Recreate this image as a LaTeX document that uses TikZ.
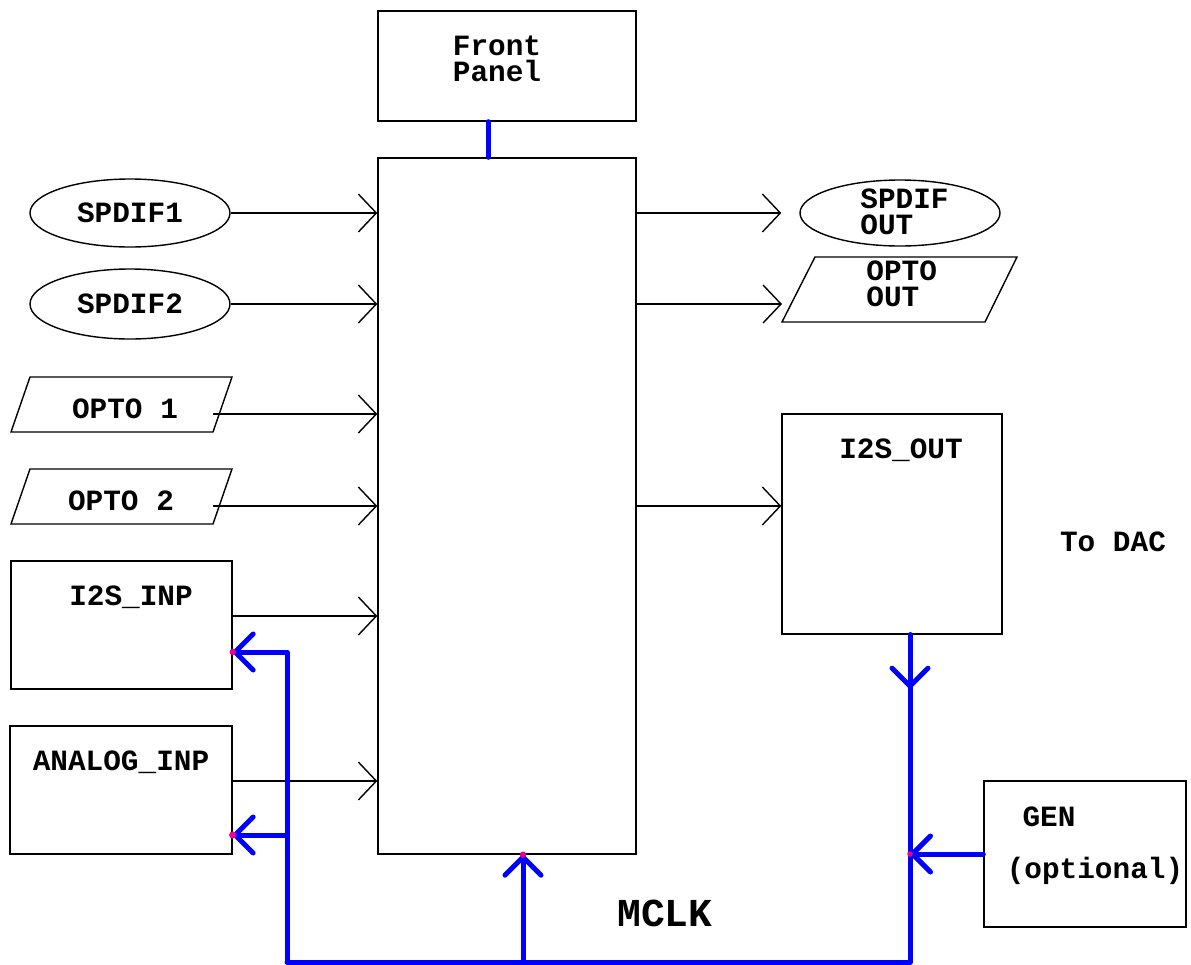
\documentclass[tikz,border=0pt]{standalone}
\usepackage{fontspec}
\setmonofont{Liberation Mono}
\usetikzlibrary{arrows.meta,shapes.geometric}

\begin{document}
\begin{tikzpicture}[x=0.5pt,y=-0.5pt,
  every node/.style={font=\ttfamily\bfseries\fontsize{14.7}{13}\selectfont, inner sep=0pt},
  box/.style={draw, line width=0.7pt},
  oval/.style={box, ellipse, minimum width=100pt, minimum height=34pt},
  sig/.style={line width=0.7pt, -{Straight Barb[length=9pt,width=19pt]}},
  clk/.style={blue, line width=2.5pt, line cap=round, line join=round},
  clktip/.style={clk, -{Straight Barb[length=9pt,width=18pt,round]}}]
  \useasboundingbox (0,0) rectangle (1191,965);

  % blocks
  \node[box, minimum width=129pt, minimum height=348pt] (main) at (507,506) {};
  \node[box, minimum width=129pt, minimum height=55pt] (front) at (507,66) {};
  \node[align=left] (fronttxt) at (497,59) {Front\\Panel};

  % inputs
  \node[oval] (sp1) at (130,213) {SPDIF1};
  \node[oval, minimum height=35pt] (sp2) at (130,304) {SPDIF2};
  \draw[box] (30,377) -- (232,377) -- (213,432) -- (11,432) -- cycle;
  \node (o1) at (125,409) {OPTO 1};
  \draw[box] (30,469) -- (232,469) -- (213,524) -- (11,524) -- cycle;
  \node (o2) at (121,501) {OPTO 2};
  \node[box, minimum width=110.5pt, minimum height=64pt] (i2si) at (121.5,625) {};
  \node (i2sitxt) at (131,597) {I2S\_INP};
  \node[box, minimum width=111pt, minimum height=64pt] (ana) at (121,790) {};
  \node (anatxt) at (121,762) {ANALOG\_INP};
  \coordinate (o1out) at (213,414);
  \coordinate (o2out) at (213,506);

  \draw[sig] (sp1.east) -- (sp1.east -| main.west);
  \draw[sig] (sp2.east) -- (sp2.east -| main.west);
  \draw[sig] (o1out) -- (o1out -| main.west);
  \draw[sig] (o2out) -- (o2out -| main.west);
  \draw[sig] ([yshift=4.5pt]i2si.east) -- ([yshift=4.5pt]i2si.east -| main.west);
  \draw[sig] ([yshift=4.5pt]ana.east) -- ([yshift=4.5pt]ana.east -| main.west);

  % outputs
  \node[oval, minimum height=33pt] (spo) at (900,213) {};
  \node[anchor=west, align=left] (spotxt) at (860,212) {SPDIF\\OUT};
  \draw[box] (815,257) -- (1017,257) -- (985,322) -- (782,322) -- cycle;
  \node[anchor=west, align=left] (oo) at (866,284) {OPTO\\OUT};
  \coordinate (ooin) at (782,304);
  \node[box, minimum width=110pt, minimum height=110pt] (i2so) at (892,524) {};
  \node (i2sotxt) at (901,450) {I2S\_OUT};
  \node (dac) at (1113,542) {To DAC};
  \coordinate (i2soin) at ([yshift=9pt]i2so.west);

  \draw[sig] (main.east |- spo.west) -- ([xshift=-9pt]spo.west);
  \draw[sig] (main.east |- ooin) -- (ooin);
  \draw[sig] (main.east |- i2soin) -- (i2soin);

  % clock
  \node[box, minimum width=101pt, minimum height=73pt] (gen) at (1085,854) {};
  \node (gentxt) at (1049,817) {GEN};
  \node (opttxt) at (1095,871) {(optional)};
  \node[font=\ttfamily\bfseries\fontsize{19.8}{22}\selectfont] (mclk) at (665,913) {MCLK};

  \coordinate (bl) at (287,962);
  \coordinate (bm) at (523,962);
  \coordinate (br) at (910,962);
  \coordinate (i2sin) at ([yshift=-13.5pt]i2si.east);
  \coordinate (anain) at ([yshift=-22.5pt]ana.east);

  \draw[clk] ([xshift=-9.5pt]front.south) -- ([xshift=-9.5pt]main.north);
  \draw[clk] (i2so.south -| br) -- (br) -- (bl);
  \draw[clktip] (i2so.south -| br) -- ++(0,54);
  \draw[clktip] (bl) |- (i2sin);
  \draw[clktip] (bl |- anain) -- (anain);
  \draw[clktip] (bm) -- (bm |- main.south);
  \draw[clktip] (gen.west) -- (gen.west -| br);

  \fill[magenta] (i2sin) circle (1.6pt);
  \fill[magenta] (anain) circle (1.8pt);
  \fill[magenta] (bm |- main.south) circle (1.6pt);
  \fill[magenta] (gen.west -| br) circle (1.4pt);
\end{tikzpicture}
\end{document}
